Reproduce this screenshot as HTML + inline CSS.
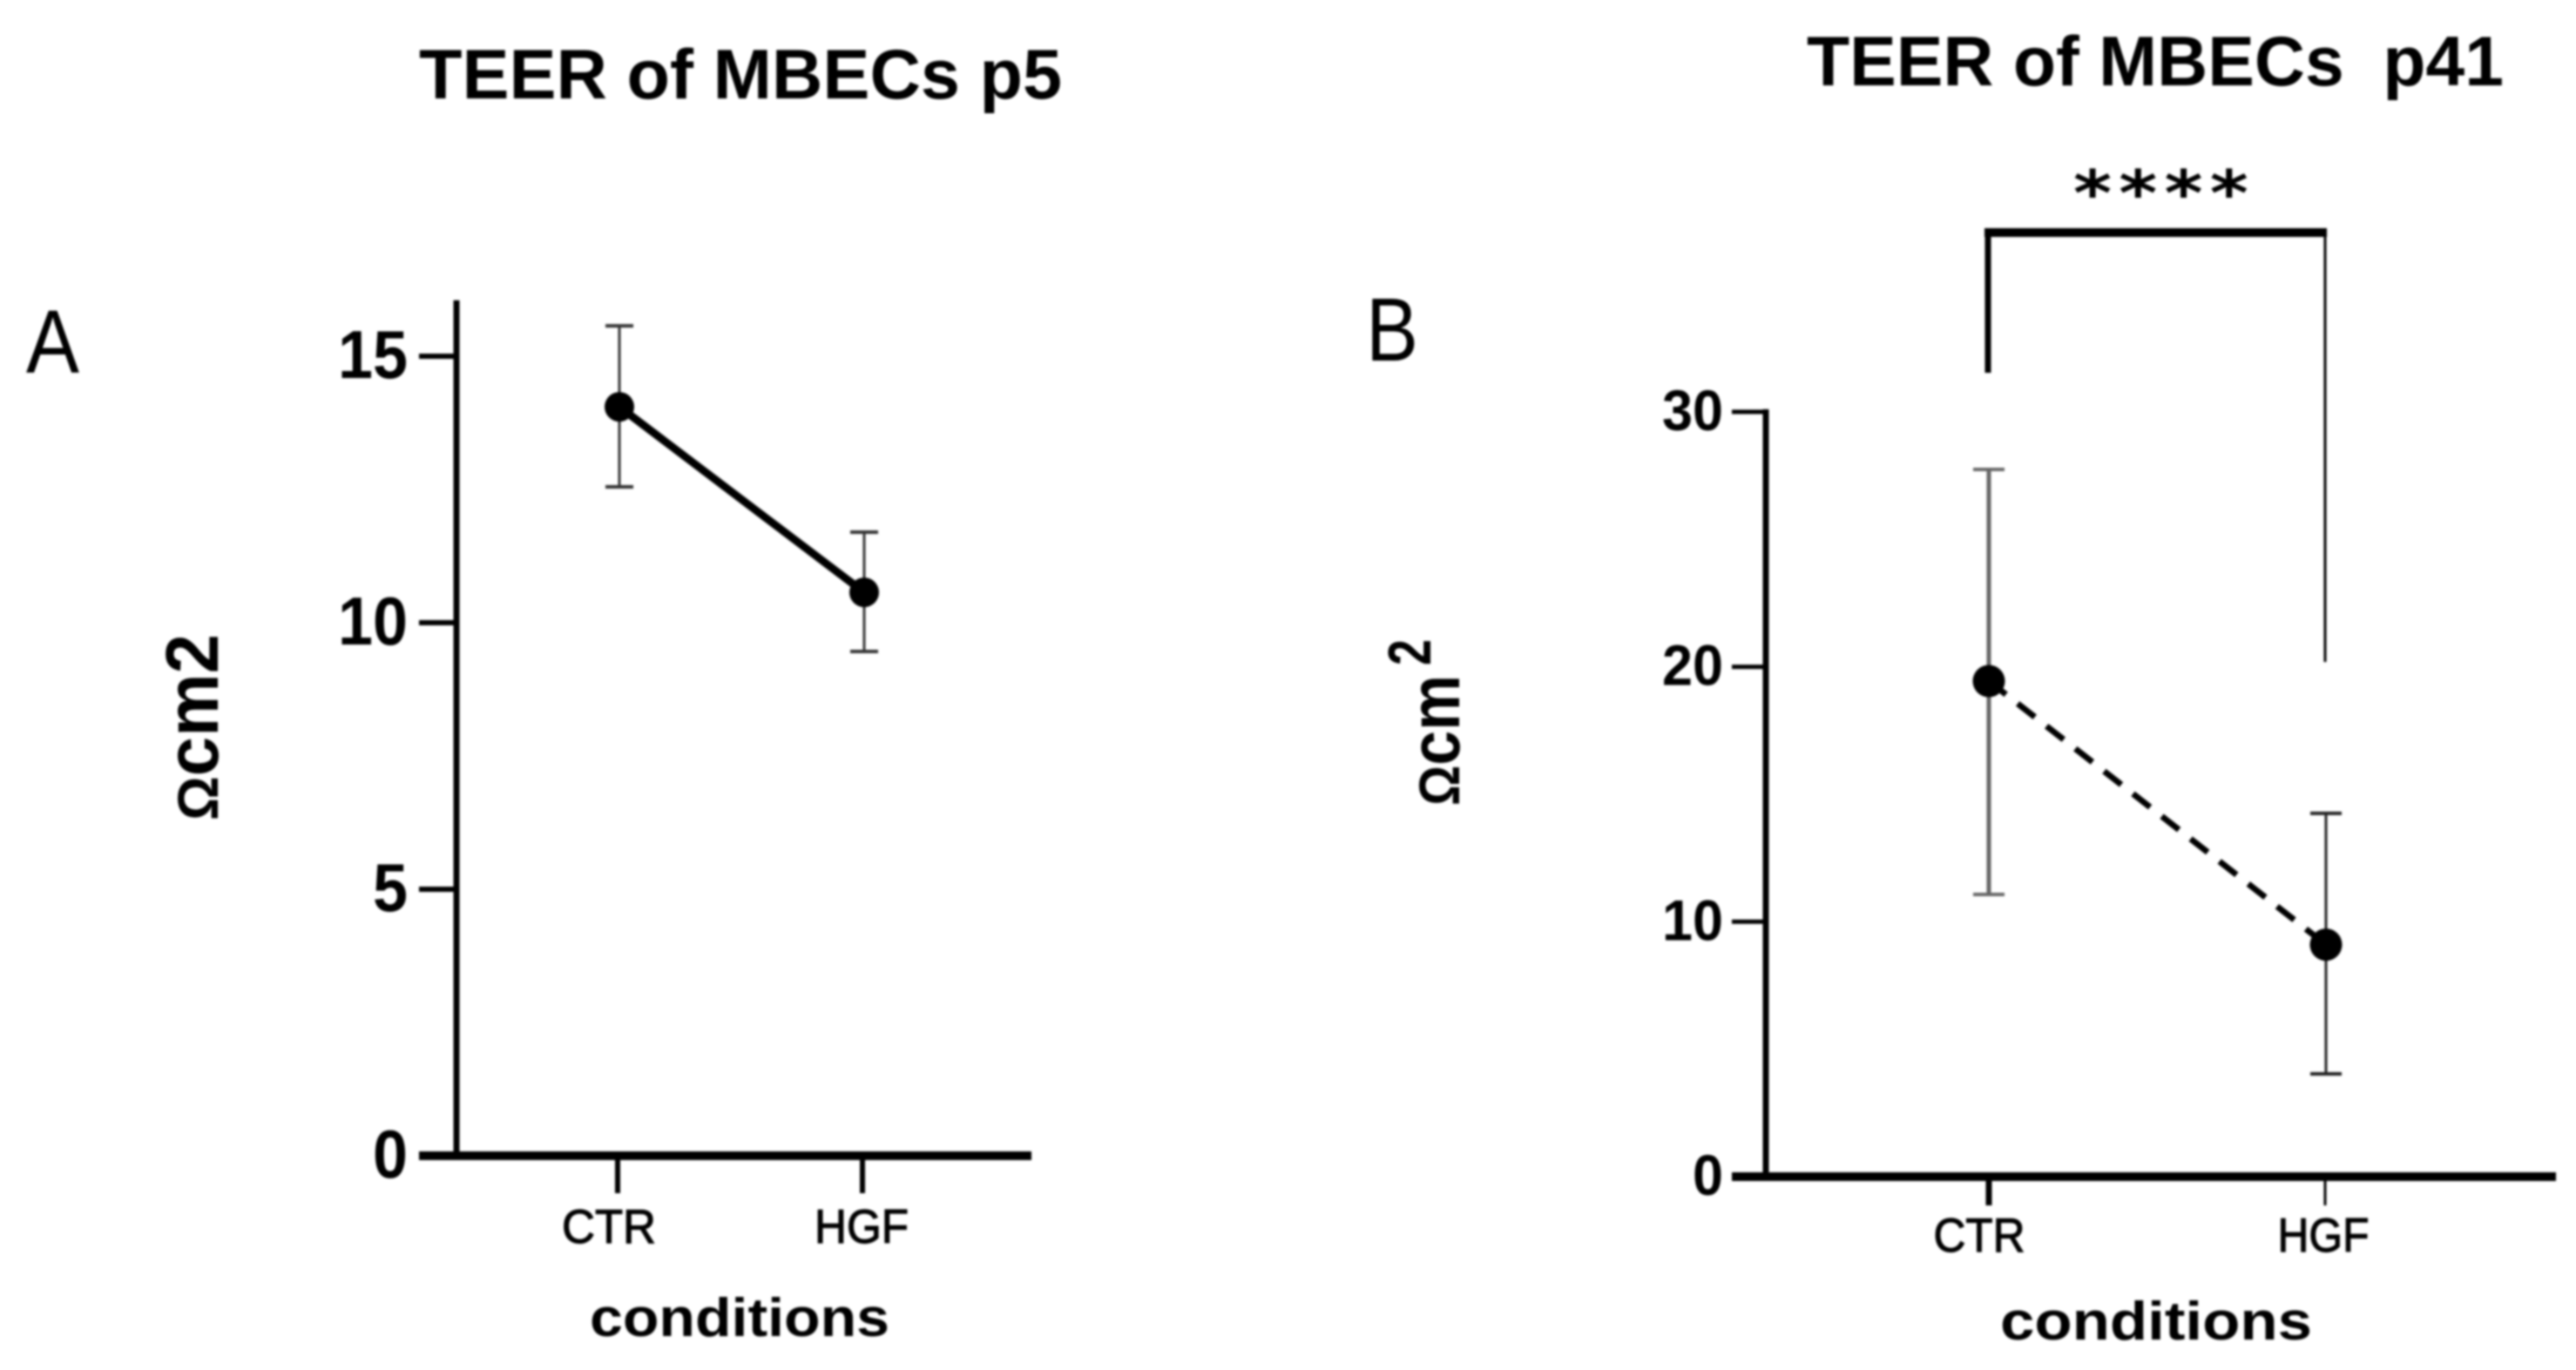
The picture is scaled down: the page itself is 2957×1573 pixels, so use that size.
<!DOCTYPE html>
<html lang="en">
<head>
<meta charset="utf-8">
<title>TEER of MBECs p5 and p41</title>
<style>
  html, body { margin: 0; padding: 0; background: #fff; width: 2957px; height: 1573px; overflow: hidden; }
  svg { display: block; filter: blur(1.2px); }
  text { font-family: "Liberation Sans", sans-serif; fill: #000; white-space: pre; }
  .bold { font-weight: 700; }
</style>
</head>
<body>
<svg id="figure" width="2957" height="1573" viewBox="0 0 2957 1573" xmlns="http://www.w3.org/2000/svg">
  <rect x="0" y="0" width="2957" height="1573" fill="#fff"/>

  <text class="bold" x="481" y="113" font-size="81" textLength="738" lengthAdjust="spacingAndGlyphs">TEER of MBECs p5</text>
  <text class="bold" x="2074" y="98" font-size="81" textLength="800" lengthAdjust="spacingAndGlyphs" xml:space="preserve">TEER of MBECs  p41</text>

  <text x="30" y="428" font-size="103" textLength="61" lengthAdjust="spacingAndGlyphs">A</text>
  <text x="1568" y="414" font-size="103" textLength="60" lengthAdjust="spacingAndGlyphs">B</text>

  <text class="bold" transform="translate(250 942) rotate(-90)" font-size="85" textLength="214" lengthAdjust="spacingAndGlyphs"><tspan font-size="66">Ω</tspan>cm2</text>
  <text class="bold" transform="translate(1675 925) rotate(-90)" font-size="82" textLength="150" lengthAdjust="spacingAndGlyphs"><tspan font-size="66">Ω</tspan>cm</text>
  <text class="bold" transform="translate(1642 764) rotate(-90)" font-size="70" textLength="30" lengthAdjust="spacingAndGlyphs">2</text>

  <text class="bold" x="677" y="1534" font-size="62" textLength="344" lengthAdjust="spacingAndGlyphs">conditions</text>
  <text class="bold" x="2296" y="1538" font-size="62" textLength="358" lengthAdjust="spacingAndGlyphs">conditions</text>

  <text transform="translate(2380 247) scale(1.17 1)" font-size="72" font-weight="700" letter-spacing="7" style="font-family:'DejaVu Sans',sans-serif">****</text>

  <g id="panel-a"></g>
  <g id="panel-b"></g>
</svg>

<script>
// Data
const categories = ['CTR', 'HGF'];

const ticksA = [0, 5, 10, 15];
const meansA = [14.05, 10.57];
const errLowA = [12.55, 9.46];
const errHighA = [15.57, 11.7];
const axisMaxA = 16.05;

const ticksB = [0, 10, 20, 30];
const meansB = [19.44, 9.1];
const errLowB = [11.07, 4.03];
const errHighB = [27.74, 14.25];
const axisMaxB = 30;

// Axis functions
function yA(v) { return 1327 - v * 61.2; }
function xA(i) { return 711 + i * 281; }
function yB(v) { return 1351 - v * 29.27; }
function xB(i) { return 2283 + i * 387; }

const SVG_NS = 'http://www.w3.org/2000/svg';
function make(parent, tag, attrs, content) {
  const el = document.createElementNS(SVG_NS, tag);
  for (const k in attrs) el.setAttribute(k, attrs[k]);
  if (content !== undefined) el.textContent = content;
  parent.appendChild(el);
  return el;
}

// ---------- Panel A ----------
const gA = document.getElementById('panel-a');

const axisYA = make(gA, 'line', { x1: 524, x2: 524, y1: yA(axisMaxA), y2: yA(0), stroke: '#000', 'stroke-width': 7 });



const axisXA = make(gA, 'line', { x1: 481, x2: 1184, y1: yA(0), y2: yA(0), stroke: '#000', 'stroke-width': 10 });



ticksA.forEach(function (t) {
  if (t !== 0) {
    const tick = make(gA, 'line', { x1: 481, x2: 524, y1: yA(t), y2: yA(t), stroke: '#000', 'stroke-width': 6 });
    
    
  }
  const label = make(gA, 'text', { x: 468, y: yA(t) + 25, 'text-anchor': 'end', 'font-size': 78, 'font-weight': 700, textLength: String(t).length * 40, lengthAdjust: 'spacingAndGlyphs' }, String(t));
  
  
});

categories.forEach(function (c, i) {
  const tick = make(gA, 'line', { x1: xA(i) - 2, x2: xA(i) - 2, y1: yA(0), y2: 1370, stroke: '#000', 'stroke-width': 6 });
  
  
  const label = make(gA, 'text', { x: xA(i) - 12 + 9 * i, y: 1427, 'text-anchor': 'middle', 'font-size': 55, textLength: 108, lengthAdjust: 'spacingAndGlyphs', stroke: '#000', 'stroke-width': 1.2 }, c);
  
  
});

const seriesA = make(gA, 'line', { x1: xA(0), y1: yA(meansA[0]), x2: xA(1), y2: yA(meansA[1]), stroke: '#000', 'stroke-width': 9 });



meansA.forEach(function (m, i) {
  const stem = make(gA, 'line', { x1: xA(i), x2: xA(i), y1: yA(errHighA[i]), y2: yA(errLowA[i]), stroke: '#333', 'stroke-width': 3 });
  
  
  const capTop = make(gA, 'line', { x1: xA(i) - 16, x2: xA(i) + 16, y1: yA(errHighA[i]), y2: yA(errHighA[i]), stroke: '#333', 'stroke-width': 4 });
  
  
  const capLow = make(gA, 'line', { x1: xA(i) - 16, x2: xA(i) + 16, y1: yA(errLowA[i]), y2: yA(errLowA[i]), stroke: '#333', 'stroke-width': 4 });
  
  
  const dot = make(gA, 'circle', { cx: xA(i), cy: yA(m), r: 17, fill: '#000' });
  
  
});

// ---------- Panel B ----------
const gB = document.getElementById('panel-b');

const axisYB = make(gB, 'line', { x1: 2027, x2: 2027, y1: yB(axisMaxB) - 3, y2: yB(0), stroke: '#000', 'stroke-width': 7 });



const axisXB = make(gB, 'line', { x1: 1988, x2: 2934, y1: yB(0), y2: yB(0), stroke: '#000', 'stroke-width': 10 });



ticksB.forEach(function (t) {
  if (t !== 0) {
    const tick = make(gB, 'line', { x1: 1988, x2: 2027, y1: yB(t), y2: yB(t), stroke: '#000', 'stroke-width': 5 });
    
    
  }
  const label = make(gB, 'text', { x: 1978, y: yB(t) + 21, 'text-anchor': 'end', 'font-size': 66, 'font-weight': 700, textLength: String(t).length * 35, lengthAdjust: 'spacingAndGlyphs' }, String(t));
  
  
});

categories.forEach(function (c, i) {
  const tick = make(gB, 'line', { x1: xB(i) - i, x2: xB(i) - i, y1: yB(0), y2: 1384, stroke: '#000', 'stroke-width': i === 0 ? 7 : 3 });
  
  
  const label = make(gB, 'text', { x: xB(i) - 11 + 8 * i, y: 1437, 'text-anchor': 'middle', 'font-size': 55, textLength: 105, lengthAdjust: 'spacingAndGlyphs', stroke: '#000', 'stroke-width': 1.2 }, c);
  
  
});

const seriesB = make(gB, 'line', { x1: xB(0), y1: yB(meansB[0]), x2: xB(1), y2: yB(meansB[1]), stroke: '#000', 'stroke-width': 7, 'stroke-dasharray': '25 17' });



meansB.forEach(function (m, i) {
  const color = i === 0 ? '#666' : '#222';
  const stem = make(gB, 'line', { x1: xB(i), x2: xB(i), y1: yB(errHighB[i]), y2: yB(errLowB[i]), stroke: color, 'stroke-width': i === 0 ? 5 : 3 });
  
  
  const capTop = make(gB, 'line', { x1: xB(i) - 18, x2: xB(i) + 18, y1: yB(errHighB[i]), y2: yB(errHighB[i]), stroke: color, 'stroke-width': 4 });
  
  
  const capLow = make(gB, 'line', { x1: xB(i) - 18, x2: xB(i) + 18, y1: yB(errLowB[i]), y2: yB(errLowB[i]), stroke: color, 'stroke-width': 4 });
  
  
  const dot = make(gB, 'circle', { cx: xB(i), cy: yB(m), r: 18.5, fill: '#000' });
  
  
});

// Significance bracket spans the two categories
const bracketTop = make(gB, 'line', { x1: xB(0) - 5, x2: xB(1) + 1, y1: 267, y2: 267, stroke: '#000', 'stroke-width': 10 });



const bracketLeft = make(gB, 'line', { x1: xB(0) - 1, x2: xB(0) - 1, y1: 267, y2: 428, stroke: '#000', 'stroke-width': 7 });



const bracketRight = make(gB, 'line', { x1: xB(1) - 1, x2: xB(1) - 1, y1: 267, y2: 760, stroke: '#000', 'stroke-width': 3 });


</script>
</body>
</html>
